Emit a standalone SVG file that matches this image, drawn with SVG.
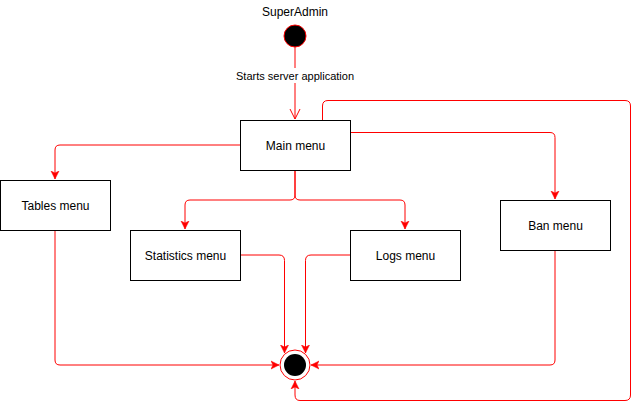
<svg xmlns="http://www.w3.org/2000/svg" width="639" height="409" viewBox="0 0 639 409">
<style>
.node rect{fill:#fff;stroke:#000;stroke-width:1}
.lbl{font-family:"Liberation Sans",Arial,sans-serif;font-size:12px;fill:#000;text-anchor:middle;dominant-baseline:central}
.edge{fill:none;stroke:#f00;stroke-width:1}
</style>
<defs>
<marker id="arr" markerUnits="userSpaceOnUse" markerWidth="10" markerHeight="10" refX="8" refY="4" orient="auto" viewBox="0 0 10 8">
<path d="M0,0 L8,4 L0,8 L2,4 Z" fill="#f00" stroke="#f00" stroke-width="0.5"/>
</marker>
<marker id="open" markerUnits="userSpaceOnUse" markerWidth="12" markerHeight="12" refX="10" refY="5" orient="auto" viewBox="0 0 12 10">
<path d="M0,0 L10,5 L0,10" fill="none" stroke="#f00" stroke-width="1"/>
</marker>
</defs>
<text class="lbl" x="295" y="12">SuperAdmin</text>
<g id="start"><circle cx="295" cy="36" r="11" fill="#000" stroke="#f00" stroke-width="1"/></g>
<g id="connectors">
<path class="edge" d="M295,47 V119" marker-end="url(#open)"/>
<rect x="235" y="68" width="120" height="15" fill="#fff"/>
<text class="lbl" x="295" y="76" style="font-size:11px">Starts server application</text>
<path class="edge" d="M240,145 H60 Q55,145 55,150 V179" marker-end="url(#arr)"/>
<path class="edge" d="M295,170 V195 Q295,200 290,200 H190 Q185,200 185,205 V229" marker-end="url(#arr)"/>
<path class="edge" d="M295,170 V195 Q295,200 300,200 H400 Q405,200 405,205 V229" marker-end="url(#arr)"/>
<path class="edge" d="M350,132.5 H550 Q555,132.5 555,137.5 V199" marker-end="url(#arr)"/>
<path class="edge" d="M322.5,120 V106 Q322.5,100.5 328,100.5 H625 Q630.5,100.5 630.5,106 V395 Q630.5,400.5 625,400.5 H300 Q295,400.5 295,395 V381" marker-end="url(#arr)"/>
<path class="edge" d="M55,230 V360 Q55,365 60,365 H279" marker-end="url(#arr)"/>
<path class="edge" d="M555,250 V360 Q555,365 550,365 H311" marker-end="url(#arr)"/>
<path class="edge" d="M240,255 H279 Q284.5,255 284.5,260.5 V353" marker-end="url(#arr)"/>
<path class="edge" d="M350,255 H311 Q305.5,255 305.5,260.5 V353" marker-end="url(#arr)"/>
</g>
<g id="main" class="node"><rect x="240.5" y="120.5" width="110" height="50"/><text class="lbl" x="295.5" y="145.5">Main menu</text></g>
<g id="tables" class="node"><rect x="0.5" y="180.5" width="110" height="50"/><text class="lbl" x="55.5" y="205.5">Tables menu</text></g>
<g id="stats" class="node"><rect x="130.5" y="230.5" width="110" height="50"/><text class="lbl" x="185.5" y="255.5">Statistics menu</text></g>
<g id="logs" class="node"><rect x="350.5" y="230.5" width="110" height="50"/><text class="lbl" x="405.5" y="255.5">Logs menu</text></g>
<g id="ban" class="node"><rect x="500.5" y="200.5" width="110" height="50"/><text class="lbl" x="555.5" y="225.5">Ban menu</text></g>
<g id="end"><circle cx="295" cy="365" r="15" fill="#fff" stroke="#f00" stroke-width="1"/><circle cx="295" cy="365" r="11" fill="#000"/></g>
</svg>
